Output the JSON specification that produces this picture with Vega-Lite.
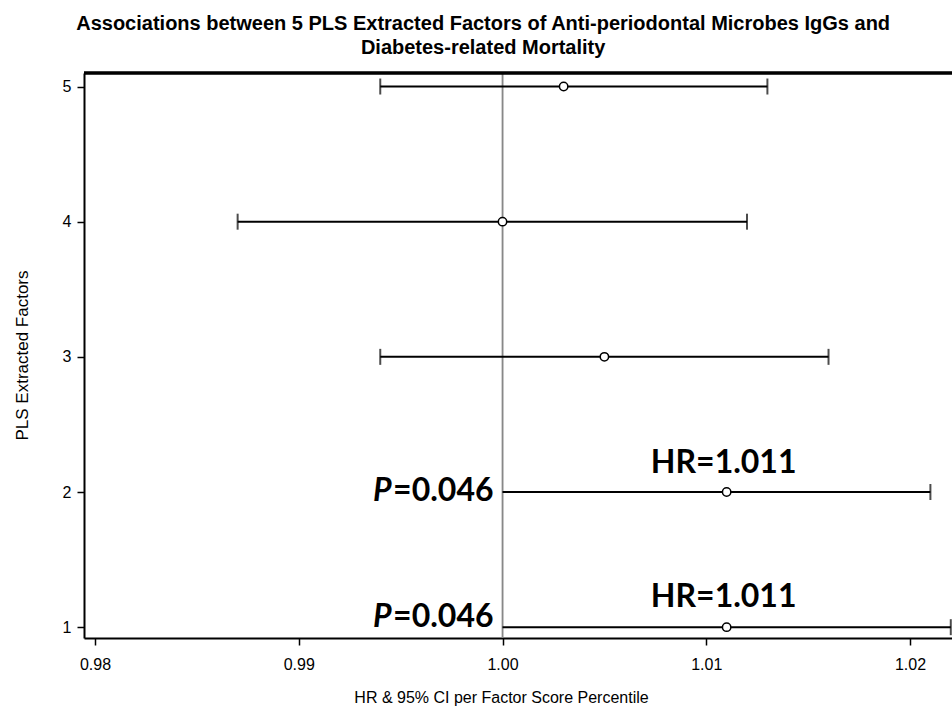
{
  "$schema": "https://vega.github.io/schema/vega-lite/v6.json",
  "width": 868,
  "height": 565,
  "autosize": {"type": "none"},
  "padding": {"left": 84, "top": 73, "right": 0, "bottom": 73},
  "background": "white",
  "config": {
    "view": {"stroke": null},
    "font": "Liberation Sans",
    "axis": {
      "domainColor": "black", "domainWidth": 2, "tickColor": "black", "tickWidth": 1.5, "tickSize": 7,
      "labelFont": "Liberation Sans", "labelFontSize": 16, "labelColor": "black",
      "titleFont": "Liberation Sans", "titleFontSize": 16, "titleFontWeight": "normal", "titleColor": "black",
      "grid": false
    }
  },
  "title": {
    "text": ["Associations between 5 PLS Extracted Factors of Anti-periodontal Microbes IgGs and", "Diabetes-related Mortality"],
    "font": "Liberation Sans", "fontSize": 20, "fontWeight": "bold", "color": "black",
    "anchor": "middle", "frame": "bounds", "lineHeight": 24, "offset": 14
  },
  "datasets": {
    "est": [
      {"factor": 5, "hr": 1.003, "lo": 0.994, "hi": 1.013, "hr_label": "", "p": ""},
      {"factor": 4, "hr": 1.000, "lo": 0.987, "hi": 1.012, "hr_label": "", "p": ""},
      {"factor": 3, "hr": 1.005, "lo": 0.994, "hi": 1.016, "hr_label": "", "p": ""},
      {"factor": 2, "hr": 1.011, "lo": 1.000, "hi": 1.021, "hr_label": "HR=1.011", "p": "=0.046"},
      {"factor": 1, "hr": 1.011, "lo": 1.000, "hi": 1.022, "hr_label": "HR=1.011", "p": "=0.046"}
    ]
  },
  "data": {"name": "est"},
  "layer": [
    {
      "mark": {"type": "rule", "color": "#888888", "strokeWidth": 1.2},
      "encoding": {"x": {"datum": 1.0, "type": "quantitative", "scale": {"domain": [0.97946, 1.02206], "nice": false, "zero": false}}}
    },
    {
      "mark": {"type": "rule", "color": "black", "strokeWidth": 2.5},
      "encoding": {"y": {"datum": 5.1, "type": "quantitative"}}
    },
    {
      "mark": {"type": "rule", "color": "black", "strokeWidth": 2},
      "encoding": {
        "x": {"field": "lo", "type": "quantitative",
          "scale": {"domain": [0.97946, 1.02206], "nice": false, "zero": false},
          "axis": {"values": [0.98, 0.99, 1.0, 1.01, 1.02], "format": ".2f", "labelPadding": 11,
            "title": "HR & 95% CI per Factor Score Percentile", "titleX": 417, "titleY": 59, "titleBaseline": "middle", "titleAnchor": null, "titleAlign": "center"}},
        "x2": {"field": "hi"},
        "y": {"field": "factor", "type": "quantitative",
          "scale": {"domain": [0.92, 5.1], "nice": false, "zero": false},
          "axis": {"values": [1, 2, 3, 4, 5], "format": "d", "labelPadding": 6,
            "title": "PLS Extracted Factors", "titleX": -62, "titleY": 282, "titleAngle": -90, "titleAlign": "center", "titleBaseline": "middle", "titleAnchor": null, "titleFontSize": 17}}
      }
    },
    {
      "transform": [{"filter": "datum.lo < 0.9995"}],
      "mark": {"type": "tick", "color": "black", "orient": "vertical", "size": 16, "thickness": 2},
      "encoding": {
        "x": {"field": "lo", "type": "quantitative"},
        "y": {"field": "factor", "type": "quantitative"}
      }
    },
    {
      "mark": {"type": "tick", "color": "black", "orient": "vertical", "size": 16, "thickness": 2},
      "encoding": {
        "x": {"field": "hi", "type": "quantitative"},
        "y": {"field": "factor", "type": "quantitative"}
      }
    },
    {
      "mark": {"type": "point", "shape": "circle", "filled": true, "fill": "white", "stroke": "black", "strokeWidth": 1.5, "size": 70, "opacity": 1},
      "encoding": {
        "x": {"field": "hr", "type": "quantitative"},
        "y": {"field": "factor", "type": "quantitative"}
      }
    },
    {
      "transform": [{"filter": "datum.factor == 2"}],
      "mark": {"type": "text", "font": "Lato", "fontSize": 32, "fontWeight": "bold", "color": "black", "align": "center", "baseline": "alphabetic", "dy": -19, "dx": -3},
      "encoding": {
        "x": {"field": "hr", "type": "quantitative"},
        "y": {"field": "factor", "type": "quantitative"},
        "text": {"field": "hr_label"}
      }
    },
    {
      "transform": [{"filter": "datum.factor == 1"}],
      "mark": {"type": "text", "font": "Lato", "fontSize": 32, "fontWeight": "bold", "color": "black", "align": "center", "baseline": "alphabetic", "dy": -20, "dx": -3},
      "encoding": {
        "x": {"field": "hr", "type": "quantitative"},
        "y": {"field": "factor", "type": "quantitative"},
        "text": {"field": "hr_label"}
      }
    },
    {
      "transform": [{"filter": "datum.factor == 2"}],
      "mark": {"type": "text", "font": "Lato", "fontSize": 32, "fontWeight": "bold", "color": "black", "align": "right", "baseline": "alphabetic", "dy": 9, "dx": -9},
      "encoding": {
        "x": {"field": "lo", "type": "quantitative"},
        "y": {"field": "factor", "type": "quantitative"},
        "text": {"field": "p"}
      }
    },
    {
      "transform": [{"filter": "datum.factor == 1"}],
      "mark": {"type": "text", "font": "Lato", "fontSize": 32, "fontWeight": "bold", "color": "black", "align": "right", "baseline": "alphabetic", "dy": 0, "dx": -9},
      "encoding": {
        "x": {"field": "lo", "type": "quantitative"},
        "y": {"field": "factor", "type": "quantitative"},
        "text": {"field": "p"}
      }
    },
    {
      "transform": [{"filter": "datum.factor == 2"}],
      "mark": {"type": "text", "font": "Lato", "fontSize": 32, "fontWeight": "bold", "fontStyle": "italic", "color": "black", "align": "right", "baseline": "alphabetic", "dy": 9, "dx": -111},
      "encoding": {
        "x": {"field": "lo", "type": "quantitative"},
        "y": {"field": "factor", "type": "quantitative"},
        "text": {"value": "P"}
      }
    },
    {
      "transform": [{"filter": "datum.factor == 1"}],
      "mark": {"type": "text", "font": "Lato", "fontSize": 32, "fontWeight": "bold", "fontStyle": "italic", "color": "black", "align": "right", "baseline": "alphabetic", "dy": 0, "dx": -111},
      "encoding": {
        "x": {"field": "lo", "type": "quantitative"},
        "y": {"field": "factor", "type": "quantitative"},
        "text": {"value": "P"}
      }
    }
  ]
}
